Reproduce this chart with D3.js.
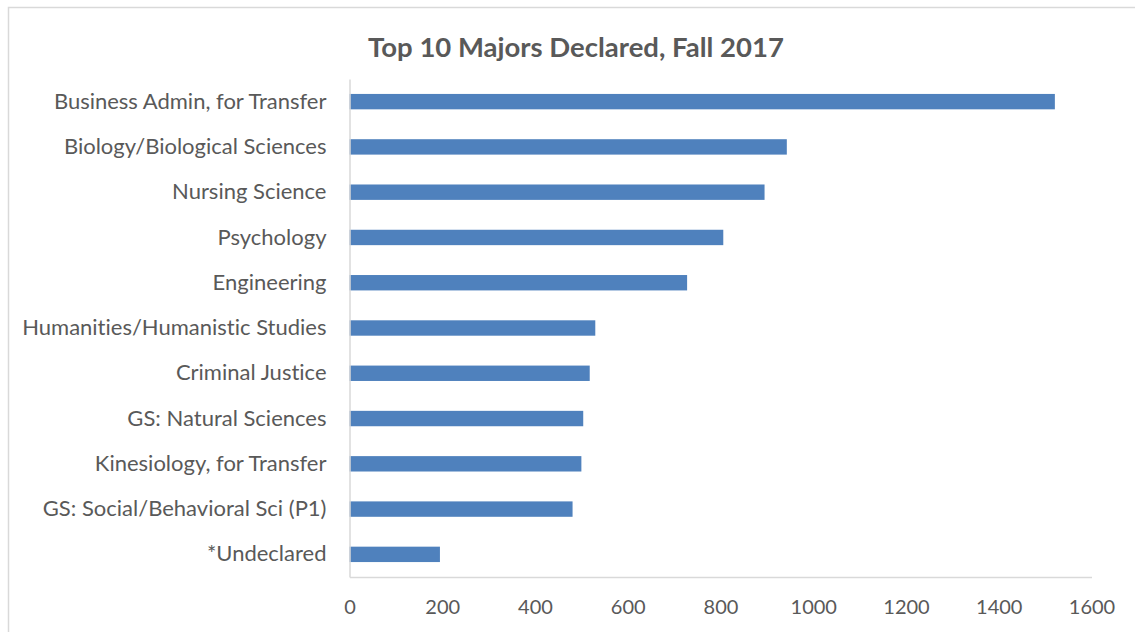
<!DOCTYPE html>
<html>
<head>
<meta charset="utf-8">
<script src="https://cdn.jsdelivr.net/npm/d3@7"></script>
<style>
  body { margin: 0; background: #fff; }
  svg { display: block; font-family: Lato, "Open Sans", sans-serif; font-variant-ligatures: none; }
  .axis text { fill: #595959; font-family: Lato, "Open Sans", sans-serif; }
  .y.axis text { font-size: 22px; }
  .x.axis text { font-size: 20px; }
  .axis path { stroke: #d9d9d9; stroke-width: 1.5; }
</style>
</head>
<body>
<div id="chart"></div>
<script>
// Top 10 majors declared, Fall 2017
let majors = ["Business Admin, for Transfer", "Biology/Biological Sciences",
              "Nursing Science", "Psychology", "Engineering",
              "Humanities/Humanistic Studies", "Criminal Justice",
              "GS: Natural Sciences", "Kinesiology, for Transfer",
              "GS: Social/Behavioral Sci (P1)", "*Undeclared"];
let counts = [1521, 943, 895, 806, 728, 530, 518, 504, 500, 481, 195];
let xTicks = [0, 200, 400, 600, 800, 1000, 1200, 1400, 1600];

let W = 1135, H = 632;
let margin = {top: 79, right: 43.5, bottom: 55, left: 349.5},
    width = W - margin.left - margin.right,
    height = H - margin.top - margin.bottom;

let svg = d3.select("#chart").append("svg")
        .attr("width", W)
        .attr("height", H);

// chart frame
svg.append("rect")
    .attr("x", 8.5).attr("y", 7.5)
    .attr("width", W + 20).attr("height", H + 20)
    .attr("fill", "none")
    .attr("stroke", "#d9d9d9")
    .attr("stroke-width", 1.5);

svg.append("text")
    .attr("x", 576)
    .attr("y", 57)
    .attr("text-anchor", "middle")
    .style("font-size", "27.5px")
    .style("font-weight", "bold")
    .style("fill", "#595959")
    .text("Top 10 Majors Declared, Fall 2017");

let g = svg.append("g")
        .attr("transform", "translate(" + margin.left + "," + margin.top + ")");

let x = d3.scaleLinear()
          .domain([0, 1600])
          .range([0, width]);
let y = d3.scaleBand()
          .domain(majors)
          .range([0, height])
          .paddingInner(0.66)
          .paddingOuter(0.33);

let data = majors.map(function(d, i) { return {major: d, n: counts[i]}; });

g.selectAll(".bar")
    .data(data)
    .enter().append("rect")
    .attr("class", "bar")
    .attr("fill", "#4f81bd")
    .attr("x", 0)
    .attr("y", function(d) { return y(d.major); })
    .attr("width", function(d) { return x(d.n); })
    .attr("height", y.bandwidth());

// x axis
g.append("g")
    .attr("class", "x axis")
    .attr("transform", "translate(0," + height + ")")
    .call(d3.axisBottom(x).tickValues(xTicks).tickFormat(d3.format("d"))
        .tickSize(0).tickPadding(23));

// y axis
g.append("g")
    .attr("class", "y axis")
    .call(d3.axisLeft(y).tickSize(0).tickPadding(23));

g.selectAll(".axis .tick line").remove();
</script>
</body>
</html>
